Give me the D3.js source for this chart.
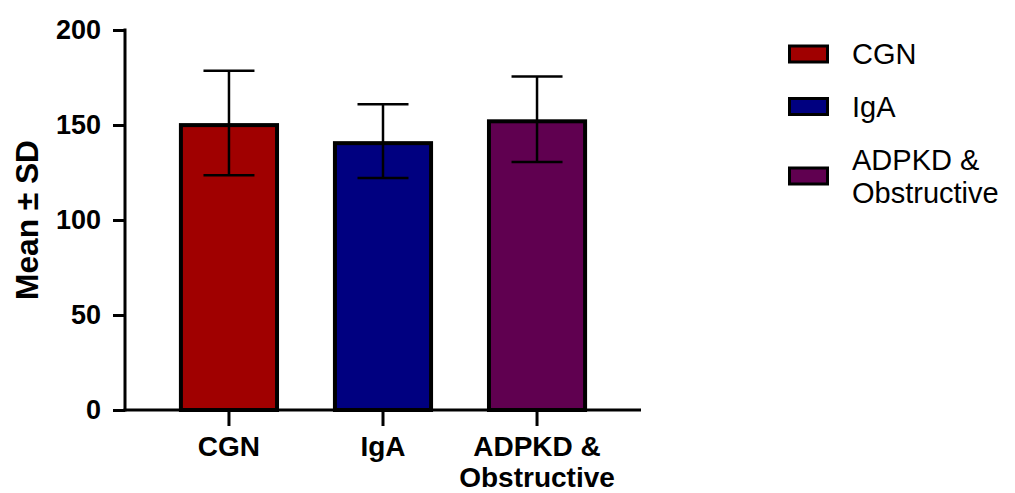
<!DOCTYPE html>
<html>
<head>
<meta charset="utf-8">
<script src="https://cdn.jsdelivr.net/npm/d3@7"></script>
<style>
  body { margin: 0; background: #fff; }
  text { font-family: "Liberation Sans", Arial, sans-serif; fill: #000; }
</style>
</head>
<body>
<svg width="1015" height="493"></svg>
<script>
// data
var categories = ["CGN", "IgA", "ADPKD & Obstructive"];
var labelLines = [["CGN"], ["IgA"], ["ADPKD &", "Obstructive"]];
var means = [151, 141.5, 153];
var sds = [27.5, 19.4, 22.5];
var colors = ["#A00000", "#000080", "#600050"];
var yTicks = [0, 50, 100, 150, 200];
var yTitle = "Mean \u00B1 SD";

var svg = d3.select("svg");

// scales
var x = d3.scaleBand()
    .domain(categories)
    .range([125, 641])
    .paddingInner(0.35)
    .paddingOuter(0.35);

var y = d3.scaleLinear()
    .domain([0, 200])
    .range([410, 30]);

var sw = 4; // bar border

//////////// BARS ////////////
svg.append("g")
    .selectAll("rect")
    .data(categories)
    .enter().append("rect")
        .attr("x", function(d) { return x(d) + sw / 2; })
        .attr("y", function(d, i) { return y(means[i]) + sw / 2; })
        .attr("width", x.bandwidth() - sw)
        .attr("height", function(d, i) { return y(0) - y(means[i]) - sw / 2; })
        .attr("fill", function(d, i) { return colors[i]; })
        .attr("stroke", "#000")
        .attr("stroke-width", sw);

//////////// ERROR BARS ////////////
var capW = 51;
var err = svg.append("g")
    .attr("stroke", "#000")
    .attr("stroke-width", 2.5)
    .selectAll("g")
    .data(categories)
    .enter().append("g");

err.append("line")
    .attr("x1", function(d) { return x(d) + x.bandwidth() / 2; })
    .attr("x2", function(d) { return x(d) + x.bandwidth() / 2; })
    .attr("y1", function(d, i) { return y(means[i] + sds[i]); })
    .attr("y2", function(d, i) { return y(means[i] - sds[i]); });

err.append("line")
    .attr("x1", function(d) { return x(d) + x.bandwidth() / 2 - capW / 2; })
    .attr("x2", function(d) { return x(d) + x.bandwidth() / 2 + capW / 2; })
    .attr("y1", function(d, i) { return y(means[i] + sds[i]); })
    .attr("y2", function(d, i) { return y(means[i] + sds[i]); });

err.append("line")
    .attr("x1", function(d) { return x(d) + x.bandwidth() / 2 - capW / 2; })
    .attr("x2", function(d) { return x(d) + x.bandwidth() / 2 + capW / 2; })
    .attr("y1", function(d, i) { return y(means[i] - sds[i]); })
    .attr("y2", function(d, i) { return y(means[i] - sds[i]); });

//////////// AXES ////////////
var yAxis = svg.append("g")
    .attr("transform", "translate(125,0)")
    .call(d3.axisLeft(y).tickValues(yTicks).tickSize(12).tickPadding(12).tickSizeOuter(0));

yAxis.selectAll("path, line").attr("stroke", "#000").attr("stroke-width", 3);
yAxis.select(".domain").attr("d", "M0," + (y(0) + 1.5) + "V" + (y(200) - 1.5));
yAxis.selectAll("text")
    .attr("fill", "#000")
    .style("font-size", "27px")
    .style("font-weight", "bold")
    .style("font-family", "'Liberation Sans', Arial, sans-serif");

var xAxis = svg.append("g")
    .attr("transform", "translate(0," + y(0) + ")")
    .call(d3.axisBottom(x).tickSize(16).tickSizeOuter(0).tickFormat(""));

xAxis.selectAll("path, line").attr("stroke", "#000").attr("stroke-width", 3);
xAxis.select(".domain").attr("d", "M123.5,0H641");

// x labels (wrapped like the reference)
var xl = svg.append("g")
    .selectAll("text")
    .data(categories)
    .enter().append("text")
        .attr("text-anchor", "middle")
        .style("font-size", "28px")
        .style("font-weight", "bold");

xl.each(function(d, i) {
    var t = d3.select(this);
    labelLines[i].forEach(function(line, j) {
        t.append("tspan")
            .attr("x", x(d) + x.bandwidth() / 2)
            .attr("y", 456 + j * 31)
            .text(line);
    });
});

// y title
svg.append("text")
    .attr("transform", "translate(38,220) rotate(-90)")
    .attr("text-anchor", "middle")
    .attr("textLength", 160)
    .attr("lengthAdjust", "spacingAndGlyphs")
    .style("font-size", "31px")
    .style("font-weight", "bold")
    .text(yTitle);

//////////// LEGEND ////////////
var legendY = [54, 106.5, 176];
var legend = svg.append("g")
    .selectAll("g")
    .data(categories)
    .enter().append("g")
        .attr("transform", function(d, i) { return "translate(788," + legendY[i] + ")"; });

legend.append("rect")
    .attr("x", 1.5)
    .attr("y", -8)
    .attr("width", 38)
    .attr("height", 16)
    .attr("fill", function(d, i) { return colors[i]; })
    .attr("stroke", "#000")
    .attr("stroke-width", 3);

legend.each(function(d, i) {
    var t = d3.select(this).append("text")
        .style("font-size", "29px");
    var lines = labelLines[i];
    lines.forEach(function(line, j) {
        t.append("tspan")
            .attr("x", 64)
            .attr("y", 10 + (j - (lines.length - 1) / 2) * 33)
            .text(line);
    });
});
</script>
</body>
</html>
